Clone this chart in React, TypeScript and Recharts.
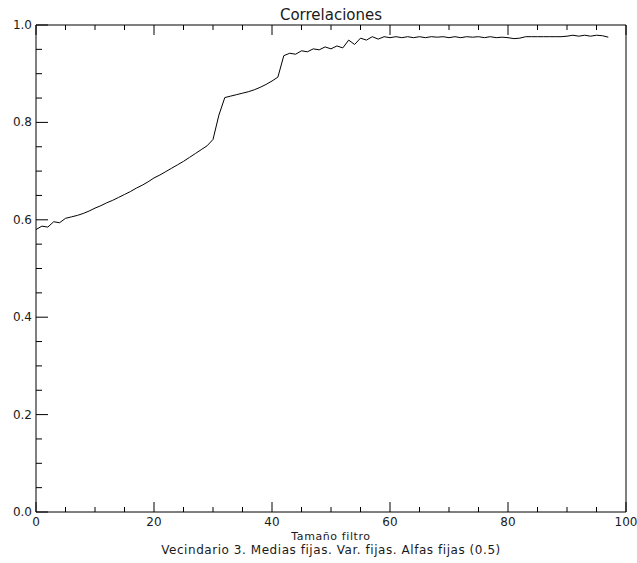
import React from 'react';
import { LineChart, Line, XAxis, YAxis } from 'recharts';

// Filter size (x) and the correlation obtained for each size (y)
const tamanoFiltro = [
  0, 1, 2, 3, 4, 5, 6, 7, 8, 9,
  10, 11, 12, 13, 14, 15, 16, 17, 18, 19,
  20, 21, 22, 23, 24, 25, 26, 27, 28, 29,
  30, 31, 32, 33, 34, 35, 36, 37, 38, 39,
  40, 41, 42, 43, 44, 45, 46, 47, 48, 49,
  50, 51, 52, 53, 54, 55, 56, 57, 58, 59,
  60, 61, 62, 63, 64, 65, 66, 67, 68, 69,
  70, 71, 72, 73, 74, 75, 76, 77, 78, 79,
  80, 81, 82, 83, 84, 85, 86, 87, 88, 89,
  90, 91, 92, 93, 94, 95, 96, 97,
];

const correlacion = [
  0.580, 0.587, 0.585, 0.596, 0.594, 0.603, 0.606, 0.609, 0.613, 0.618,
  0.624, 0.629, 0.635, 0.640, 0.646, 0.652, 0.658, 0.665, 0.671, 0.678,
  0.686, 0.692, 0.699, 0.706, 0.713, 0.720, 0.728, 0.736, 0.744, 0.752,
  0.765, 0.815, 0.851, 0.854, 0.857, 0.860, 0.863, 0.867, 0.872, 0.878,
  0.885, 0.893, 0.937, 0.942, 0.940, 0.947, 0.945, 0.951, 0.949, 0.955,
  0.951, 0.957, 0.953, 0.969, 0.960, 0.973, 0.969, 0.976, 0.971, 0.976,
  0.974, 0.976, 0.974, 0.976, 0.974, 0.976, 0.974, 0.976, 0.975, 0.976,
  0.974, 0.976, 0.974, 0.976, 0.975, 0.976, 0.974, 0.976, 0.974, 0.975,
  0.974, 0.972, 0.973, 0.976, 0.976, 0.976, 0.976, 0.976, 0.976, 0.976,
  0.977, 0.979, 0.977, 0.979, 0.977, 0.979, 0.978, 0.975,
];

// Tick positions: every value gets a tick mark, labelled ones get a longer one
const xTicks = [0, 5, 10, 15, 20, 25, 30, 35, 40, 45, 50, 55, 60, 65, 70, 75, 80, 85, 90, 95, 100];
const xLabelled = [0, 20, 40, 60, 80, 100];
const yTicks = [0, 0.05, 0.1, 0.15, 0.2, 0.25, 0.3, 0.35, 0.4, 0.45, 0.5, 0.55, 0.6, 0.65, 0.7, 0.75, 0.8, 0.85, 0.9, 0.95, 1];
const yLabelled = [0, 0.2, 0.4, 0.6, 0.8, 1];

const titulo = 'Correlaciones';
const tituloX = 'Tamaño filtro';
const subtitulo = 'Vecindario 3. Medias fijas. Var. fijas. Alfas fijas (0.5)';

const data = tamanoFiltro.map((t, i) => ({ t, c: correlacion[i] }));

const W = 637;
const H = 563;
const LEFT = 36;
const RIGHT = 626;
const TOP = 25;
const BOTTOM = 512;

const FONT = '"DejaVu Sans", sans-serif';
const INK = '#000';
const TEXT = '#1a1a1a';

const isLabelled = (list: number[], v: number) => list.some((l) => Math.abs(l - v) < 1e-9);

const BottomTick = (props: any) => {
  const { x, y, payload } = props;
  const major = isLabelled(xLabelled, payload.value);
  return (
    <g>
      <line x1={x} x2={x} y1={y} y2={y - (major ? 10 : 5)} stroke={INK} strokeWidth={1} />
      {major && (
        <text x={x} y={y + 14} textAnchor="middle" fontFamily={FONT} fontSize={12} fill={TEXT}>
          {payload.value}
        </text>
      )}
    </g>
  );
};

const TopTick = (props: any) => {
  const { x, y, payload } = props;
  const major = isLabelled(xLabelled, payload.value);
  return <line x1={x} x2={x} y1={y} y2={y + (major ? 10 : 5)} stroke={INK} strokeWidth={1} />;
};

const LeftTick = (props: any) => {
  const { x, y, payload } = props;
  const major = isLabelled(yLabelled, payload.value);
  return (
    <g>
      <line x1={x} x2={x + (major ? 12 : 6)} y1={y} y2={y} stroke={INK} strokeWidth={1} />
      {major && (
        <text x={x - 4} y={y + 4} textAnchor="end" fontFamily={FONT} fontSize={12} fill={TEXT}>
          {Number(payload.value).toFixed(1)}
        </text>
      )}
    </g>
  );
};

const RightTick = (props: any) => {
  const { x, y, payload } = props;
  const major = isLabelled(yLabelled, payload.value);
  return <line x1={x} x2={x - (major ? 12 : 6)} y1={y} y2={y} stroke={INK} strokeWidth={1} />;
};

export default function App() {
  return (
    <div style={{ position: 'absolute', left: 0, top: 0, width: W, height: H, background: '#fff' }}>
      <LineChart width={W} height={H} data={data} margin={{ top: 0, right: 0, bottom: 0, left: 0 }}>
        <XAxis
          xAxisId="bottom"
          dataKey="t"
          type="number"
          domain={[0, 100]}
          ticks={xTicks}
          interval={0}
          orientation="bottom"
          height={H - BOTTOM}
          tickSize={0}
          tickMargin={0}
          tickLine={false}
          axisLine={{ stroke: INK, strokeWidth: 1 }}
          tick={<BottomTick />}
        />
        <XAxis
          xAxisId="top"
          dataKey="t"
          type="number"
          domain={[0, 100]}
          ticks={xTicks}
          interval={0}
          orientation="top"
          height={TOP}
          tickSize={0}
          tickMargin={0}
          tickLine={false}
          axisLine={{ stroke: INK, strokeWidth: 1 }}
          tick={<TopTick />}
        />
        <YAxis
          yAxisId="left"
          type="number"
          domain={[0, 1]}
          ticks={yTicks}
          interval={0}
          orientation="left"
          width={LEFT}
          tickSize={0}
          tickMargin={0}
          tickLine={false}
          axisLine={{ stroke: INK, strokeWidth: 1 }}
          tick={<LeftTick />}
        />
        <YAxis
          yAxisId="right"
          type="number"
          domain={[0, 1]}
          ticks={yTicks}
          interval={0}
          orientation="right"
          width={W - RIGHT}
          tickSize={0}
          tickMargin={0}
          tickLine={false}
          axisLine={{ stroke: INK, strokeWidth: 1 }}
          tick={<RightTick />}
        />
        <Line
          xAxisId="bottom"
          yAxisId="left"
          dataKey="c"
          type="linear"
          stroke={INK}
          strokeWidth={1}
          dot={false}
          isAnimationActive={false}
        />
      </LineChart>
      <svg
        width={W}
        height={H}
        style={{ position: 'absolute', left: 0, top: 0, pointerEvents: 'none' }}
      >
        <text x={(LEFT + RIGHT) / 2} y={20} textAnchor="middle" fontFamily={FONT} fontSize={15} fill={TEXT}>
          {titulo}
        </text>
        <text
          x={(LEFT + RIGHT) / 2}
          y={540}
          textAnchor="middle"
          fontFamily={FONT}
          fontSize={11}
          letterSpacing={0.6}
          fill={TEXT}
        >
          {tituloX}
        </text>
        <text
          x={(LEFT + RIGHT) / 2}
          y={554}
          textAnchor="middle"
          fontFamily={FONT}
          fontSize={12}
          letterSpacing={0.55}
          fill={TEXT}
        >
          {subtitulo}
        </text>
      </svg>
    </div>
  );
}
